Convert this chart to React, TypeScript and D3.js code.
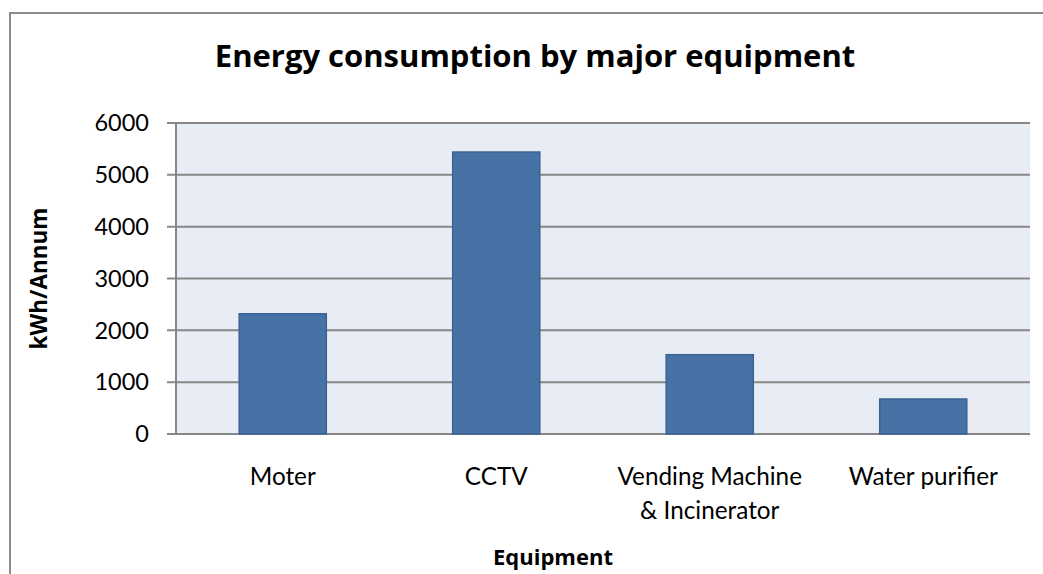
import React from "react";
import * as d3 from "d3";

const categories: string[][] = [["Moter"], ["CCTV"], ["Vending Machine", "& Incinerator"], ["Water purifier"]];
const values: number[] = [2320, 5440, 1530, 675];
const yTicks: number[] = [0, 1000, 2000, 3000, 4000, 5000, 6000];

const W = 1043;
const H = 574;
const plot = { left: 176, right: 1030, top: 123, bottom: 434 };
const FONT = "Lato, 'Open Sans', sans-serif";
const BOLD = "'Open Sans', Lato, sans-serif";

export default function App() {
  const x = d3
    .scaleBand<number>()
    .domain(d3.range(values.length))
    .range([plot.left, plot.right])
    .paddingInner(0.592)
    .paddingOuter(0.296);
  const y = d3.scaleLinear().domain([0, 6000]).range([plot.bottom, plot.top]);
  const band = (plot.right - plot.left) / values.length;

  return (
    <div style={{ position: "fixed", left: 0, top: 0, width: W, height: H, background: "#fff" }}>
      <svg width={W} height={H} style={{ display: "block" }}>
        <rect x={10} y={13} width={1080} height={620} fill="#fff" stroke="#8c8c8c" strokeWidth={2} />
        <text x={535} y={67} textAnchor="middle" fontFamily={BOLD} fontWeight="bold" fontSize={31} fill="#000">
          Energy consumption by major equipment
        </text>
        <rect x={plot.left} y={plot.top} width={plot.right - plot.left} height={plot.bottom - plot.top} fill="#e8ecf4" />
        {yTicks.map((t) => (
          <g key={t}>
            <line x1={plot.left - 9} x2={plot.right} y1={y(t)} y2={y(t)} stroke="#878787" strokeWidth={2} />
            <text x={149} y={y(t)} dy="0.35em" textAnchor="end" fontFamily={FONT} fontSize={23.5} fill="#000">
              {t}
            </text>
          </g>
        ))}
        <line x1={plot.left} x2={plot.left} y1={plot.top} y2={plot.bottom} stroke="#878787" strokeWidth={2} />
        {values.map((v, i) => (
          <rect
            key={i}
            x={x(i)}
            y={y(v)}
            width={x.bandwidth()}
            height={plot.bottom - y(v)}
            fill="#4672a6"
            stroke="#3b6292"
            strokeWidth={1.5}
          />
        ))}
        {categories.map((lines, i) => (
          <text key={i} textAnchor="middle" fontFamily={FONT} fontSize={24.3} fill="#000">
            {lines.map((l, j) => (
              <tspan key={j} x={plot.left + band * (i + 0.5)} y={485 + j * 33.5}>
                {l}
              </tspan>
            ))}
          </text>
        ))}
        <text x={553} y={565} textAnchor="middle" fontFamily={BOLD} fontWeight="bold" fontSize={22} fill="#000">
          Equipment
        </text>
        <text
          transform={`translate(47, ${(plot.top + plot.bottom) / 2}) rotate(-90)`}
          textAnchor="middle"
          fontFamily={BOLD}
          fontWeight="bold"
          fontSize={22.5}
          fill="#000"
        >
          kWh/Annum
        </text>
      </svg>
    </div>
  );
}
